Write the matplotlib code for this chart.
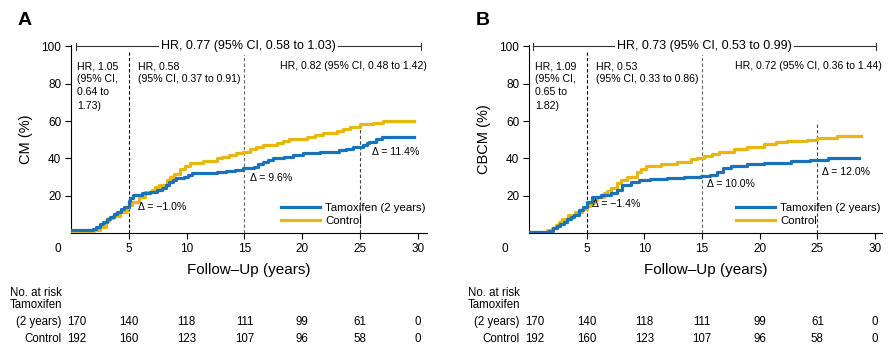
import matplotlib
matplotlib.use("Agg")
import matplotlib.pyplot as plt
from matplotlib.transforms import blended_transform_factory

plt.rcParams['font.family'] = ['Liberation Sans', 'DejaVu Sans']

BLUE = '#1a72bb'
GOLD = '#e8b70f'

# panel A: CM
a_tam_t = [0, 1.9, 2.2, 2.5, 2.8, 3.1, 3.4, 3.7, 4.0, 4.3, 4.6, 5.0, 5.05, 5.1, 5.4, 6.1, 6.8, 7.4, 7.9,
           8.2, 8.5, 8.8, 9.1, 9.8, 10.1, 10.5, 11.9, 12.6, 13.4, 14.2, 14.9, 15.4, 15.8, 16.2, 16.6,
           17.0, 17.5, 18.4, 19.2, 20.1, 21.5, 23.2, 23.8, 24.4, 25.3, 25.6, 25.8, 26.4, 26.9, 29.7]
a_tam_v = [1.6, 2.1, 3.4, 4.7, 6.0, 7.3, 8.7, 10.0, 11.4, 12.6, 13.8, 15.0, 17.0, 18.6, 20.4, 21.3, 22.2, 23.0, 24.0,
           25.8, 27.5, 28.4, 29.3, 30.2, 31.1, 32.0, 32.4, 32.9, 33.4, 34.0, 34.7, 35.1, 35.6, 36.9, 38.2,
           39.1, 40.0, 40.9, 41.8, 42.7, 43.6, 44.5, 45.2, 45.9, 47.2, 48.1, 49.0, 50.2, 51.3, 51.3]
a_ctl_t = [0, 1.2, 2.0, 2.5, 3.0, 3.3, 3.6, 4.2, 4.8, 5.0, 5.3, 5.9, 6.4, 7.0, 7.3, 7.6, 8.3, 8.6, 8.9,
           9.4, 9.9, 10.3, 11.4, 12.6, 13.1, 13.7, 14.3, 14.9, 15.5, 16.0, 16.6, 17.8, 18.3, 18.9,
           20.4, 21.1, 21.8, 23.0, 23.5, 24.1, 25.0, 26.1, 27.0, 29.7]
a_ctl_v = [0, 1.2, 1.8, 3.4, 6.6, 7.9, 9.1, 11.4, 13.2, 15.0, 16.8, 19.5, 22.2, 23.0, 24.4, 25.7, 28.4, 30.0, 31.6,
           34.2, 35.8, 37.4, 38.8, 40.0, 40.9, 41.8, 42.7, 43.6, 45.0, 46.1, 47.2, 48.4, 49.3, 50.2,
           51.6, 52.5, 53.4, 54.9, 55.8, 56.7, 58.3, 59.2, 60.2, 60.2]

# panel B: CBCM
b_tam_t = [0, 1.7, 2.1, 2.4, 2.7, 3.0, 3.3, 3.6, 3.9, 4.3, 4.7, 5.0, 5.5, 6.2, 7.1, 7.6, 8.1, 8.8, 9.5,
           10.5, 12.0, 13.4, 14.9, 15.7, 16.3, 16.8, 17.5, 18.9, 20.4, 22.7, 24.4, 25.9, 28.6]
b_tam_v = [0.7, 1.2, 2.5, 3.6, 4.8, 6.0, 7.3, 8.5, 9.7, 12.3, 13.8, 16.8, 19.5, 20.4, 21.6, 23.0, 25.7, 27.5, 28.4,
           28.8, 29.3, 29.9, 30.7, 31.1, 32.9, 34.7, 35.9, 37.0, 37.7, 38.6, 39.1, 40.0, 40.0]
b_ctl_t = [0, 1.6, 2.0, 2.3, 2.6, 2.9, 3.4, 4.0, 4.6, 5.0, 5.3, 5.6, 5.9, 6.5, 6.8, 7.1, 7.6, 8.0, 8.5,
           9.4, 9.7, 10.1, 11.4, 12.8, 14.0, 14.6, 15.2, 15.9, 16.5, 17.8, 18.9, 20.4, 21.4, 22.4,
           24.1, 25.0, 26.7, 28.8]
b_ctl_v = [0.3, 1.6, 2.9, 4.3, 5.8, 7.3, 9.7, 11.4, 12.7, 14.5, 16.3, 17.9, 19.5, 21.3, 22.6, 24.0, 26.6, 28.4, 30.2,
           32.9, 34.4, 35.9, 37.0, 38.2, 39.5, 40.4, 41.3, 42.5, 43.6, 44.9, 46.3, 47.7, 48.6, 49.5,
           49.9, 50.8, 52.2, 52.2]

risk_times = [0.5, 5, 10, 15, 20, 25, 30]
tam_risk = [170, 140, 118, 111, 99, 61, 0]
ctl_risk = [192, 160, 123, 107, 96, 58, 0]

a_hr = ['HR, 0.77 (95% CI, 0.58 to 1.03)', 'HR, 1.05\n(95% CI,\n0.64 to\n1.73)',
        'HR, 0.58\n(95% CI, 0.37 to 0.91)', 'HR, 0.82 (95% CI, 0.48 to 1.42)']
b_hr = ['HR, 0.73 (95% CI, 0.53 to 0.99)', 'HR, 1.09\n(95% CI,\n0.65 to\n1.82)',
        'HR, 0.53\n(95% CI, 0.33 to 0.86)', 'HR, 0.72 (95% CI, 0.36 to 1.44)']
a_delta = [(5.8, 14, 'Δ = −1.0%'), (15.5, 29.6, 'Δ = 9.6%'), (26.0, 43.5, 'Δ = 11.4%')]
b_delta = [(5.5, 15.5, 'Δ = −1.4%'), (15.4, 26, 'Δ = 10.0%'), (25.4, 32.5, 'Δ = 12.0%')]

fig = plt.figure(figsize=(8.9, 3.59), dpi=100)


def panel(rect, xmax, letter, ylab, tam_t, tam_v, ctl_t, ctl_v, hr, deltas, top25, zero_x, bar):
    ax = fig.add_axes(rect)
    ax.plot(ctl_t, ctl_v, drawstyle='steps-post', color=GOLD, lw=2.3, label='Control', zorder=3)
    ax.plot(tam_t, tam_v, drawstyle='steps-post', color=BLUE, lw=2.3, label='Tamoxifen (2 years)', zorder=4)
    h, l = ax.get_legend_handles_labels()
    ax.legend(h[::-1], l[::-1], loc='lower right', frameon=False, fontsize=8.2,
              handlelength=3.5, handletextpad=0.4, labelspacing=0.32,
              bbox_to_anchor=(1.015, 0.0), borderaxespad=0.2)

    ax.set_xlim(0, xmax)
    ax.set_ylim(0, 100.8)
    ax.set_xticks([5, 10, 15, 20, 25, 30])
    ax.set_yticks([20, 40, 60, 80, 100])
    ax.tick_params(labelsize=8.5, length=4, width=0.8, pad=3)
    for s in ['top', 'right']:
        ax.spines[s].set_visible(False)
    ax.text(zero_x, -5.5, '0', ha='center', va='top', fontsize=8.5)
    ax.set_xlabel('Follow\u2013Up (years)', fontsize=11, labelpad=6)
    ax.set_ylabel(ylab, fontsize=10.5, labelpad=6)

    # dashed landmark lines
    ax.plot([5, 5], [0, 97], ls=(0, (3, 2)), color='black', lw=0.8)
    ax.plot([15, 15], [0, 97], ls=(0, (3, 2)), color='#666666', lw=0.8)
    ax.plot([25, 25], [0, top25], ls=(0, (3, 2)), color='#444444', lw=0.8)

    # overall HR bracket
    ax.plot([bar[0], bar[1]], [100, 100], color='#333333', lw=0.8, clip_on=False)
    for xb in bar:
        ax.plot([xb, xb], [98, 102], color='#333333', lw=0.8, clip_on=False)
    ax.text((bar[0] + bar[1]) / 2, 100, hr[0], ha='center', va='center', fontsize=9,
            bbox=dict(facecolor='white', edgecolor='none', pad=1.5), zorder=5)
    ax.text(0.5, 92, hr[1], ha='left', va='top', fontsize=7.6, linespacing=1.38)
    ax.text(5.8, 92, hr[2], ha='left', va='top', fontsize=7.6, linespacing=1.38)
    ax.text(xmax, 92, hr[3], ha='right', va='top', fontsize=7.6)
    for x, y, s in deltas:
        ax.text(x, y, s, ha='left', va='center', fontsize=7.6)

    fig.text(rect[0] - 0.052, 0.944, letter, fontsize=14, fontweight='bold', ha='center', va='center')

    # numbers at risk
    tr = blended_transform_factory(ax.transData, fig.transFigure)
    fs = 8.3
    ax.text(-0.8, 0.185, 'No. at risk', transform=tr, ha='right', va='center', fontsize=fs)
    ax.text(-0.8, 0.150, 'Tamoxifen', transform=tr, ha='right', va='center', fontsize=fs)
    ax.text(-0.8, 0.103, '(2 years)', transform=tr, ha='right', va='center', fontsize=fs)
    ax.text(-0.8, 0.056, 'Control', transform=tr, ha='right', va='center', fontsize=fs)
    for t, n1, n2 in zip(risk_times, tam_risk, ctl_risk):
        ax.text(t, 0.103, str(n1), transform=tr, ha='center', va='center', fontsize=fs)
        ax.text(t, 0.056, str(n2), transform=tr, ha='center', va='center', fontsize=fs)
    return ax


panel([0.0798, 0.351, 0.40, 0.5237], 30.8, 'A', 'CM (%)', a_tam_t, a_tam_v, a_ctl_t, a_ctl_v,
      a_hr, a_delta, 56, -1.1, (0.4, 30.3))
panel([0.5944, 0.351, 0.3966, 0.5237], 30.6, 'B', 'CBCM (%)', b_tam_t, b_tam_v, b_ctl_t, b_ctl_v,
      b_hr, b_delta, 59, -2.1, (0.35, 30.1))

fig.savefig('out.png', dpi=100)
